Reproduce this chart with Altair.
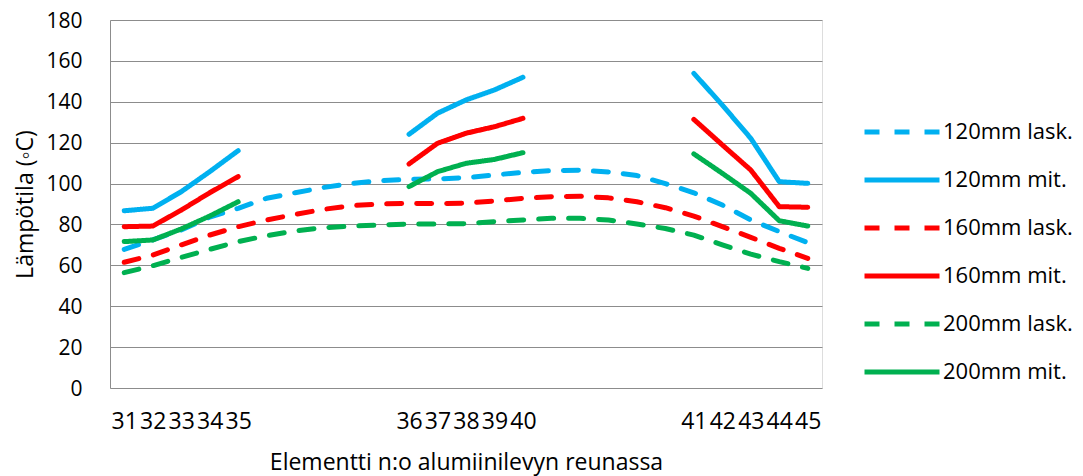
import json
import altair as alt
import pandas as pd

FONT = "Open Sans"

# x categories (element numbers); blank slots separate the three measured groups
categories = ["31", "32", "33", "34", "35", "", "", "", "", "",
              "36", "37", "38", "39", "40", "", "", "", "", "",
              "41", "42", "43", "44", "45"]

series_names = ["120mm lask.", "120mm mit.", "160mm lask.", "160mm mit.", "200mm lask.", "200mm mit."]
series_colors = ["#00B0F0", "#00B0F0", "#FF0000", "#FF0000", "#00B050", "#00B050"]
series_dashes = [[15, 15], [1, 0], [15, 15], [1, 0], [15, 15], [1, 0]]

N = None
lask_120 = [67.8, 72.4, 77.3, 83.6, 87.9, 92.8, 95.5, 98.1, 100.1, 101.4,
            102.1, 102.2, 102.9, 104.2, 105.5, 106.3, 106.5, 105.7, 103.9, 100.0,
            95.5, 89.5, 82.2, 76.5, 71.1]
mit_120 = [86.7, 87.9, 96.0, 105.8, 116.1, N, N, N, N, N,
           124.1, 134.4, 140.9, 145.8, 152.0, N, N, N, N, N,
           153.9, 138.4, 122.1, 100.9, 100.1]
lask_160 = [61.5, 65.0, 70.0, 74.8, 78.9, 82.2, 84.9, 87.4, 89.2, 90.0,
            90.3, 90.2, 90.4, 91.5, 92.8, 93.6, 93.8, 93.0, 91.1, 88.2,
            84.1, 78.9, 73.7, 68.3, 63.4]
mit_160 = [78.9, 79.2, 87.0, 95.5, 103.4, N, N, N, N, N,
           109.6, 119.7, 124.6, 127.8, 131.9, N, N, N, N, N,
           131.4, 118.9, 106.6, 88.7, 88.4]
lask_200 = [56.4, 59.8, 63.9, 67.8, 71.6, 74.5, 76.8, 78.4, 79.2, 79.7,
            80.2, 80.2, 80.4, 81.4, 82.2, 83.0, 83.0, 82.2, 80.2, 78.0,
            74.8, 70.0, 65.5, 61.8, 58.5]
mit_200 = [71.6, 72.4, 77.8, 84.1, 91.1, N, N, N, N, N,
           98.5, 105.8, 109.9, 111.8, 115.1, N, N, N, N, N,
           114.5, 105.0, 95.2, 81.8, 79.2]

series_values = [lask_120, mit_120, lask_160, mit_160, lask_200, mit_200]

rows = []
for name, vals in zip(series_names, series_values):
    seg = 0
    prev_none = False
    for i, v in enumerate(vals):
        if v is None:
            prev_none = True
            continue
        if prev_none:
            seg += 1
            prev_none = False
        rows.append({"idx": i, "value": v, "series": name, "seg": f"{name}-{seg}"})
df = pd.DataFrame(rows)

label_expr = json.dumps(categories) + "[datum.value]"

legend = alt.Legend(
    title=None, orient="none", legendX=752, legendY=100,
    symbolType="stroke", symbolSize=5625, symbolStrokeWidth=5,
    clipHeight=24, rowPadding=24, padding=0,
    labelFontSize=22, labelFont=FONT, labelColor="#000000",
    labelOffset=1, labelLimit=300,
)

chart = alt.Chart(df).mark_line(
    strokeWidth=5, strokeCap="round", strokeJoin="round"
).encode(
    x=alt.X("idx:Q",
            scale=alt.Scale(domain=[-0.5, 24.5], nice=False, zero=False),
            axis=alt.Axis(values=list(range(len(categories))), labelExpr=label_expr,
                          title="Elementti n:o alumiinilevyn reunassa",
                          grid=False, ticks=False, domain=False,
                          labelPadding=22, titlePadding=18,
                          labelFontSize=23, titleFontSize=23,
                          labelFont=FONT, titleFont=FONT, titleFontWeight="normal",
                          labelColor="#000000", titleColor="#000000",
                          labelFlush=False, labelOverlap=False)),
    y=alt.Y("value:Q",
            scale=alt.Scale(domain=[0, 180], nice=False),
            axis=alt.Axis(values=list(range(0, 181, 20)),
                          title="Lämpötila (◦C)",
                          grid=True, gridColor="#8c8c8c", gridWidth=1,
                          ticks=False, domain=True, domainColor="#8c8c8c", domainWidth=1,
                          labelPadding=28, titlePadding=8, labelOffset=1,
                          labelFontSize=21, titleFontSize=23,
                          labelFont=FONT, titleFont=FONT, titleFontWeight="normal",
                          labelColor="#000000", titleColor="#000000")),
    color=alt.Color("series:N", scale=alt.Scale(domain=series_names, range=series_colors),
                    legend=legend),
    strokeDash=alt.StrokeDash("series:N", scale=alt.Scale(domain=series_names, range=series_dashes),
                              legend=legend),
    detail="seg:N",
).properties(
    width=712, height=368,
    autosize=alt.AutoSizeParams(type="none"),
    padding={"left": 102, "top": 12, "right": 253, "bottom": 90},
).configure_view(stroke=None).configure(background="white")

chart.save("out.html", embed_options={"renderer": "svg", "actions": False})
